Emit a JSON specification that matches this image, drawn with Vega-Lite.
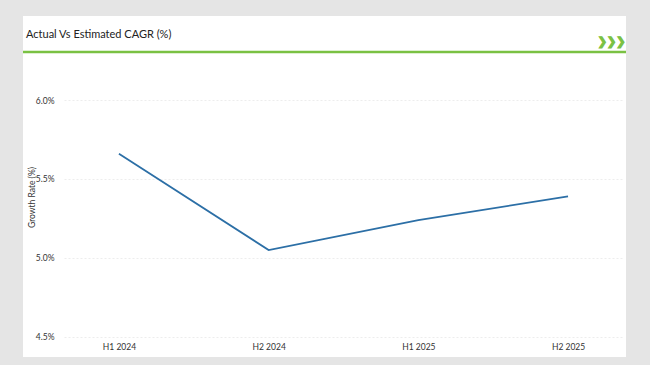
{
  "$schema": "https://vega.github.io/schema/vega-lite/v6.json",
  "width": 650,
  "height": 365,
  "autosize": {"type": "fit", "contains": "padding"},
  "padding": {"left": 21, "top": 16, "right": 22, "bottom": 8},
  "background": "#e5e5e5",
  "config": {"view": {"fill": "white", "stroke": null}, "font": "Lato"},
  "title": {
    "text": "Actual Vs Estimated CAGR (%)",
    "anchor": "start",
    "frame": "group",
    "offset": -30,
    "baseline": "middle",
    "dx": 3,
    "fontSize": 11,
    "fontWeight": "normal",
    "color": "#222222",
    "font": "Lato"
  },
  "data": {
    "values": [
      {"period": "H1 2024", "rate": 5.66},
      {"period": "H2 2024", "rate": 5.05},
      {"period": "H1 2025", "rate": 5.24},
      {"period": "H2 2025", "rate": 5.39}
    ]
  },
  "layer": [
    {
      "mark": {"type": "line", "color": "#2c6fa6", "strokeWidth": 1.8},
      "encoding": {
        "x": {
          "field": "period",
          "type": "ordinal",
          "sort": null,
          "scale": {"type": "point", "range": [41, 600], "padding": 0.367},
          "axis": {
            "title": null,
            "orient": "bottom",
            "offset": -15,
            "ticks": false,
            "tickSize": 0,
            "domain": false,
            "grid": false,
            "labelPadding": 0,
            "labelBaseline": "top",
            "labelFontSize": 8.5,
            "labelColor": "#333333",
            "labelAngle": 0
          }
        },
        "y": {
          "field": "rate",
          "type": "quantitative",
          "scale": {"domain": [4.373, 6.532], "nice": false, "zero": false},
          "axis": {
            "title": "Growth Rate (%)",
            "titleFontSize": 8.5,
            "titleFontWeight": "normal",
            "titleColor": "#333333",
            "titleX": -23,
            "titleY": 181,
            "titleBaseline": "middle",
            "values": [4.5, 5, 5.5, 6],
            "labelExpr": "format(datum.value, '.1f') + '%'",
            "offset": -31,
            "ticks": false,
            "tickSize": 0,
            "domain": false,
            "labelPadding": 0,
            "labelFontSize": 8.5,
            "labelColor": "#333333",
            "grid": true,
            "gridColor": "#ededed",
            "gridDash": [2, 2]
          }
        }
      }
    },
    {
      "data": {"values": [{}]},
      "mark": {"type": "rule", "color": "#7ac143", "strokeWidth": 2.5},
      "encoding": {"y": {"datum": 6.304}}
    },
    {
      "data": {"values": [{}]},
      "mark": {"type": "text", "text": "❯❯❯", "color": "#7ac143", "stroke": "#7ac143", "strokeWidth": 1.2, "fontSize": 11, "font": "DejaVu Sans", "fontWeight": "bold", "align": "center", "baseline": "middle", "letterSpacing": -2.5},
      "encoding": {
        "x": {"datum": 0.976, "type": "quantitative", "scale": {"domain": [0, 1]}, "axis": null},
        "y": {"datum": 6.367}
      }
    }
  ],
  "resolve": {"scale": {"x": "independent"}}
}
